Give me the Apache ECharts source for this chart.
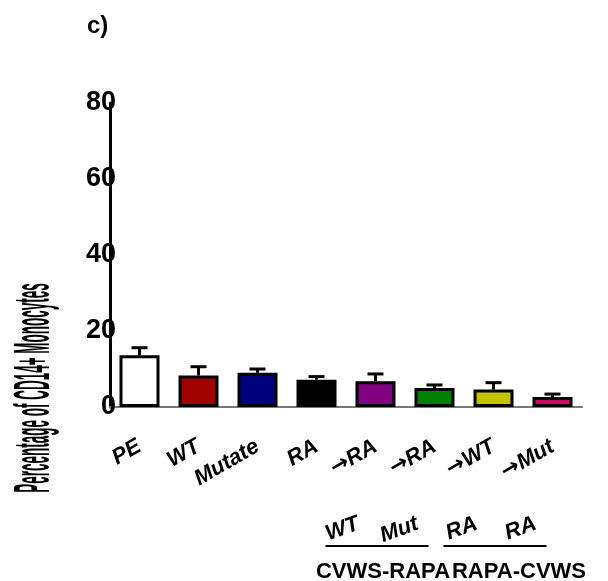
<!DOCTYPE html>
<html>
<head>
<meta charset="utf-8">
<script src="https://cdn.jsdelivr.net/npm/echarts@6/dist/echarts.min.js"></script>
<style>
  html, body { margin: 0; padding: 0; background: #fff; }
  #chart { width: 608px; height: 581px; }
</style>
</head>
<body>
<div id="chart"></div>
<script>
// Treatment groups (top label row) and the second label row under the swap groups
const categories = ["PE", "WT", "Mutate", "RA", "→RA", "→RA", "→WT", "→Mut"];
const subLabels = ["", "", "", "", "WT", "Mut", "RA", "RA"];
// Bracketed groups: [first index, last index, label]
const groups = [[4, 5, "CVWS-RAPA"], [6, 7, "RAPA-CVWS"]];

// Mean percentage and SEM per group
const means = [13.6, 8.3, 9.0, 7.2, 6.8, 5.0, 4.6, 2.6];
const sems = [2.0, 2.3, 1.0, 0.8, 1.9, 0.8, 1.8, 0.8];
const barColors = ["#ffffff", "#a00000", "#00007f", "#000000", "#800080", "#008000", "#c3c300", "#cc0a60"];

const yTicks = { min: 0, max: 80, interval: 20 };
const yTitle = "Percentage of CD14+ Monocytes";

const chart = echarts.init(document.getElementById("chart"));
const FONT = "Liberation Sans";

// arrows drawn in DejaVu so they read at full size
function catLabel(v) {
  if (v.charAt(0) === "→") return "{ar|→}{t|" + v.slice(1) + "}";
  return "{t|" + v + "}";
}
const labelRich = {
  t: { fontFamily: FONT, fontWeight: "bold", fontStyle: "italic", fontSize: 22, color: "#000" },
  ar: { fontFamily: "DejaVu Sans", fontWeight: "bold", fontSize: 22, color: "#000" }
};

chart.setOption({
  animation: false,
  backgroundColor: "#fff",
  title: {
    text: "c)", left: 82, top: 9,
    textStyle: { fontFamily: FONT, fontWeight: "bold", fontSize: 24, color: "#000" }
  },
  grid: { left: 110, right: 26, top: 103, bottom: 174 },
  xAxis: [{
    type: "category",
    data: categories,
    axisLine: { lineStyle: { color: "#777", width: 2 } },
    axisTick: { alignWithLabel: true, length: 8, lineStyle: { color: "#000", width: 3 } },
    axisLabel: {
      interval: 0, rotate: 30, margin: 38,
      formatter: catLabel, rich: labelRich
    }
  }, {
    type: "category",
    data: subLabels,
    position: "bottom",
    axisLine: { show: false },
    axisTick: { show: false },
    axisLabel: {
      interval: 0, rotate: 20, margin: 110, padding: [0, 18, 0, 0],
      fontFamily: FONT, fontWeight: "bold", fontStyle: "italic", fontSize: 22, color: "#000"
    }
  }],
  yAxis: {
    type: "value",
    min: yTicks.min, max: yTicks.max, interval: yTicks.interval,
    splitLine: { show: false },
    axisLine: { show: true, lineStyle: { color: "#000", width: 3 } },
    axisTick: { show: false },
    axisLabel: {
      margin: -6,
      fontFamily: FONT, fontWeight: "bold", fontSize: 27, color: "#000"
    }
  },
  series: [{
    type: "bar",
    barWidth: 40,
    data: means.map((v, i) => ({ value: v, itemStyle: { color: barColors[i] } })),
    itemStyle: { borderColor: "#000", borderWidth: 3 },
    z: 2
  }, {
    // upper SEM whiskers
    type: "custom",
    data: means.map((v, i) => [i, v, v + sems[i]]),
    renderItem: function (params, api) {
      const base = api.coord([api.value(0), api.value(1)]);
      const top = api.coord([api.value(0), api.value(2)]);
      const half = 8;
      return {
        type: "group",
        children: [
          { type: "line", shape: { x1: top[0], y1: base[1], x2: top[0], y2: top[1] },
            style: { stroke: "#000", lineWidth: 3 } },
          { type: "line", shape: { x1: top[0] - half, y1: top[1], x2: top[0] + half, y2: top[1] },
            style: { stroke: "#000", lineWidth: 3 } }
        ]
      };
    },
    z: 1
  }]
});

// Y-axis title, brackets under grouped bars, and group captions
function drawExtras() {
  const gx = (i) => chart.convertToPixel({ xAxisIndex: 0 }, i);
  const y0 = chart.convertToPixel({ yAxisIndex: 0 }, 0);
  const els = [{
    type: "text",
    x: 35, y: 388,
    rotation: Math.PI / 2,
    scaleX: 0.27,
    style: {
      text: yTitle, fontFamily: FONT, fontWeight: "bold", fontSize: 50,
      fill: "#000", align: "center", verticalAlign: "middle"
    }
  }];
  groups.forEach(([a, b, label], k) => {
    const x1 = gx(a) - 50, x2 = gx(b) - 6;
    els.push({
      type: "line",
      shape: { x1: x1, y1: y0 + 139, x2: x2, y2: y0 + 139 },
      style: { stroke: "#000", lineWidth: 2 }
    });
    els.push({
      type: "text",
      x: (x1 + x2) / 2 + (k === 0 ? 6 : 24), y: y0 + 165,
      style: {
        text: label, fontFamily: FONT, fontWeight: "bold", fontSize: 22,
        fill: "#000", align: "center", verticalAlign: "middle"
      }
    });
  });
  chart.setOption({ graphic: els });
}
drawExtras();
</script>
</body>
</html>
